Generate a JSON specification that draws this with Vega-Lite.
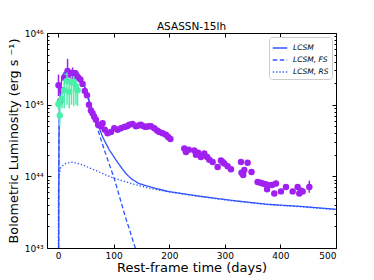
{
  "$schema": "https://vega.github.io/schema/vega-lite/v6.json",
  "width": 289,
  "height": 215,
  "autosize": {"type": "none"},
  "padding": {"left": 47, "top": 33, "right": 38, "bottom": 32},
  "config": {
    "font": "DejaVu Sans",
    "view": {"stroke": "black", "strokeWidth": 1},
    "axis": {"labelFont": "DejaVu Sans", "titleFont": "DejaVu Sans", "labelColor": "black", "titleColor": "black", "tickColor": "black", "grid": false, "domain": false}
  },
  "title": {"text": "ASASSN-15lh", "fontSize": 10.5, "fontWeight": "normal", "offset": -3, "frame": "group", "font": "DejaVu Sans", "color": "black"},
  "datasets": {
    "lines": [
      {"t": 0.8, "L": 3.162e42, "series": "L_CSM"},
      {"t": 1.5, "L": 3.162e44, "series": "L_CSM"},
      {"t": 2.5, "L": 1e45, "series": "L_CSM"},
      {"t": 4, "L": 1.585e45, "series": "L_CSM"},
      {"t": 7, "L": 2.399e45, "series": "L_CSM"},
      {"t": 10, "L": 2.754e45, "series": "L_CSM"},
      {"t": 15, "L": 2.951e45, "series": "L_CSM"},
      {"t": 25, "L": 3.02e45, "series": "L_CSM"},
      {"t": 32, "L": 2.951e45, "series": "L_CSM"},
      {"t": 37, "L": 2.692e45, "series": "L_CSM"},
      {"t": 42, "L": 2.291e45, "series": "L_CSM"},
      {"t": 47, "L": 1.862e45, "series": "L_CSM"},
      {"t": 52, "L": 1.445e45, "series": "L_CSM"},
      {"t": 57, "L": 1.072e45, "series": "L_CSM"},
      {"t": 62, "L": 8.318e44, "series": "L_CSM"},
      {"t": 71, "L": 5.495e44, "series": "L_CSM"},
      {"t": 80, "L": 3.548e44, "series": "L_CSM"},
      {"t": 92, "L": 2.344e44, "series": "L_CSM"},
      {"t": 104, "L": 1.698e44, "series": "L_CSM"},
      {"t": 113, "L": 1.349e44, "series": "L_CSM"},
      {"t": 122, "L": 1.096e44, "series": "L_CSM"},
      {"t": 131, "L": 9.333e43, "series": "L_CSM"},
      {"t": 145, "L": 7.943e43, "series": "L_CSM"},
      {"t": 167, "L": 7.079e43, "series": "L_CSM"},
      {"t": 197, "L": 6.166e43, "series": "L_CSM"},
      {"t": 257, "L": 5.248e43, "series": "L_CSM"},
      {"t": 317, "L": 4.571e43, "series": "L_CSM"},
      {"t": 377, "L": 4.074e43, "series": "L_CSM"},
      {"t": 437, "L": 3.802e43, "series": "L_CSM"},
      {"t": 500, "L": 3.467e43, "series": "L_CSM"},

      {"t": 0.8, "L": 3.162e42, "series": "L_CSM, FS"},
      {"t": 1.5, "L": 3.162e44, "series": "L_CSM, FS"},
      {"t": 2.5, "L": 9.8e44, "series": "L_CSM, FS"},
      {"t": 4, "L": 1.55e45, "series": "L_CSM, FS"},
      {"t": 7, "L": 2.344e45, "series": "L_CSM, FS"},
      {"t": 10, "L": 2.692e45, "series": "L_CSM, FS"},
      {"t": 15, "L": 2.884e45, "series": "L_CSM, FS"},
      {"t": 25, "L": 2.951e45, "series": "L_CSM, FS"},
      {"t": 32, "L": 2.884e45, "series": "L_CSM, FS"},
      {"t": 37, "L": 2.63e45, "series": "L_CSM, FS"},
      {"t": 42, "L": 2.239e45, "series": "L_CSM, FS"},
      {"t": 47, "L": 1.82e45, "series": "L_CSM, FS"},
      {"t": 52, "L": 1.38e45, "series": "L_CSM, FS"},
      {"t": 57, "L": 1.023e45, "series": "L_CSM, FS"},
      {"t": 65, "L": 6.457e44, "series": "L_CSM, FS"},
      {"t": 83, "L": 2.344e44, "series": "L_CSM, FS"},
      {"t": 101, "L": 9.333e43, "series": "L_CSM, FS"},
      {"t": 120, "L": 2.884e43, "series": "L_CSM, FS"},
      {"t": 143, "L": 7.943e42, "series": "L_CSM, FS"},

      {"t": 0.2, "L": 3.162e42, "series": "L_CSM, RS"},
      {"t": 0.5, "L": 6.31e43, "series": "L_CSM, RS"},
      {"t": 1.5, "L": 1e44, "series": "L_CSM, RS"},
      {"t": 5, "L": 1.349e44, "series": "L_CSM, RS"},
      {"t": 14, "L": 1.514e44, "series": "L_CSM, RS"},
      {"t": 26, "L": 1.585e44, "series": "L_CSM, RS"},
      {"t": 44, "L": 1.445e44, "series": "L_CSM, RS"},
      {"t": 59, "L": 1.288e44, "series": "L_CSM, RS"},
      {"t": 80, "L": 1.096e44, "series": "L_CSM, RS"},
      {"t": 95, "L": 9.772e43, "series": "L_CSM, RS"},
      {"t": 131, "L": 7.943e43, "series": "L_CSM, RS"},
      {"t": 167, "L": 6.761e43, "series": "L_CSM, RS"},
      {"t": 197, "L": 6.095e43, "series": "L_CSM, RS"},
      {"t": 257, "L": 5.188e43, "series": "L_CSM, RS"},
      {"t": 317, "L": 4.519e43, "series": "L_CSM, RS"},
      {"t": 377, "L": 4.027e43, "series": "L_CSM, RS"},
      {"t": 437, "L": 3.758e43, "series": "L_CSM, RS"},
      {"t": 500, "L": 3.428e43, "series": "L_CSM, RS"}
    ],
    "purple": [
      {"t": 0.7, "L": 1.862e45, "lo": 1.318e45, "hi": 2.63e45},
      {"t": 4, "L": 1.122e45},
      {"t": 7, "L": 1.585e45},
      {"t": 11, "L": 2.399e45},
      {"t": 17, "L": 2.951e45, "lo": 1.995e45, "hi": 4.365e45},
      {"t": 22, "L": 2.63e45},
      {"t": 26, "L": 2.512e45, "lo": 1.995e45, "hi": 3.311e45},
      {"t": 31, "L": 2.754e45},
      {"t": 36, "L": 2.399e45},
      {"t": 40, "L": 2.239e45},
      {"t": 44, "L": 1.95e45},
      {"t": 48, "L": 1.549e45},
      {"t": 52, "L": 1.349e45},
      {"t": 55.5, "L": 1e45},
      {"t": 59, "L": 8.318e44},
      {"t": 62, "L": 7.586e44},
      {"t": 65, "L": 6.761e44},
      {"t": 68, "L": 6.166e44},
      {"t": 72, "L": 5.248e44},
      {"t": 77, "L": 5.012e44},
      {"t": 80, "L": 5.495e44},
      {"t": 84, "L": 4.467e44},
      {"t": 89, "L": 3.981e44},
      {"t": 95, "L": 4.169e44},
      {"t": 101, "L": 4.677e44},
      {"t": 107, "L": 4.467e44},
      {"t": 113, "L": 4.677e44},
      {"t": 119, "L": 4.898e44},
      {"t": 124, "L": 5.012e44},
      {"t": 128, "L": 5.248e44},
      {"t": 134, "L": 5.37e44},
      {"t": 140, "L": 5.012e44},
      {"t": 145, "L": 5.129e44},
      {"t": 149, "L": 5.248e44},
      {"t": 154, "L": 5.012e44},
      {"t": 158, "L": 4.898e44},
      {"t": 163, "L": 5.012e44},
      {"t": 167, "L": 5.012e44},
      {"t": 173, "L": 4.677e44},
      {"t": 178, "L": 4.365e44},
      {"t": 182, "L": 4.169e44},
      {"t": 188, "L": 3.981e44},
      {"t": 194, "L": 3.802e44},
      {"t": 198, "L": 3.548e44},
      {"t": 202, "L": 3.311e44},
      {"t": 227, "L": 2.455e44},
      {"t": 230, "L": 2.188e44},
      {"t": 235, "L": 2.344e44},
      {"t": 245, "L": 2.291e44},
      {"t": 248, "L": 1.995e44},
      {"t": 252, "L": 2.138e44},
      {"t": 257, "L": 1.862e44},
      {"t": 263, "L": 2.089e44},
      {"t": 268, "L": 1.862e44},
      {"t": 272, "L": 1.698e44},
      {"t": 278, "L": 1.585e44},
      {"t": 287, "L": 1.349e44},
      {"t": 293, "L": 1.66e44},
      {"t": 296, "L": 1.585e44},
      {"t": 299, "L": 1.514e44},
      {"t": 305, "L": 1.38e44},
      {"t": 311, "L": 1.259e44},
      {"t": 329, "L": 1.585e44},
      {"t": 341, "L": 1.549e44},
      {"t": 330, "L": 1.122e44},
      {"t": 333, "L": 1.047e44},
      {"t": 335, "L": 1.23e44},
      {"t": 348, "L": 1.148e44},
      {"t": 359, "L": 8.318e43},
      {"t": 364, "L": 8.128e43},
      {"t": 368, "L": 7.943e43},
      {"t": 373, "L": 7.762e43},
      {"t": 377, "L": 7.586e43},
      {"t": 376, "L": 6.607e43},
      {"t": 385, "L": 7.586e43},
      {"t": 389, "L": 5.754e43},
      {"t": 392, "L": 7.943e43},
      {"t": 401, "L": 6.166e43},
      {"t": 410, "L": 7.079e43},
      {"t": 422, "L": 6.166e43},
      {"t": 431, "L": 7.079e43},
      {"t": 434, "L": 5.754e43},
      {"t": 437, "L": 6.31e43},
      {"t": 440, "L": 6.166e43},
      {"t": 452, "L": 7.079e43, "lo": 5.888e43, "hi": 8.71e43}
    ],
    "green": [
      {"t": 0.5, "L": 1.023e45, "lo": 8.511e44, "hi": 1.202e45},
      {"t": 3, "L": 7.079e44, "lo": 5.012e44, "hi": 1e45},
      {"t": 7, "L": 1.202e45, "lo": 8.913e44, "hi": 1.585e45},
      {"t": 11, "L": 1.585e45, "lo": 8.913e44, "hi": 2.239e45},
      {"t": 16, "L": 2.138e45, "lo": 1e45, "hi": 2.818e45},
      {"t": 20, "L": 1.514e45, "lo": 8.913e44, "hi": 1.995e45},
      {"t": 24, "L": 2.042e45, "lo": 1e45, "hi": 2.512e45},
      {"t": 28, "L": 2.089e45, "lo": 9.55e44, "hi": 2.512e45},
      {"t": 32, "L": 1.778e45, "lo": 1e45, "hi": 2.138e45},
      {"t": 35, "L": 1.585e45, "lo": 9.55e44, "hi": 1.995e45}
    ]
  },
  "resolve": {"axis": {"x": "independent", "y": "independent"}},
  "layer": [
    {
      "data": {"name": "lines"},
      "mark": {"type": "line", "clip": true, "strokeWidth": 1.3, "color": "#2f55ff"},
      "encoding": {
        "x": {"field": "t", "type": "quantitative", "scale": {"domain": [-20, 500], "nice": false, "zero": false},
          "axis": {"orient": "bottom", "values": [0, 100, 200, 300, 400, 500], "tickSize": -4, "labelPadding": 7, "labelFontSize": 9, "title": "Rest-frame time (days)", "titleFontSize": 13, "titleFontWeight": "normal", "titlePadding": 1}},
        "y": {"field": "L", "type": "quantitative", "scale": {"type": "log", "domain": [1e43, 1e46], "nice": false},
          "axis": {"orient": "left",
            "values": [1e43, 2e43, 3e43, 4e43, 5e43, 6e43, 7e43, 8e43, 9e43, 1e44, 2e44, 3e44, 4e44, 5e44, 6e44, 7e44, 8e44, 9e44, 1e45, 2e45, 3e45, 4e45, 5e45, 6e45, 7e45, 8e45, 9e45, 1e46],
            "labelExpr": "datum.value == 1e43 ? '10⁴³' : datum.value == 1e44 ? '10⁴⁴' : datum.value == 1e45 ? '10⁴⁵' : datum.value == 1e46 ? '10⁴⁶' : ''",
            "labelOverlap": false, "labelFontSize": 9, "labelPadding": 8,
            "tickSize": {"condition": {"test": "datum.value == 1e43 || datum.value == 1e44 || datum.value == 1e45 || datum.value == 1e46", "value": -4}, "value": -2},
            "title": "Bolometric Luminosity (erg s ⁻¹)", "titleFontSize": 12.8, "titleFontWeight": "normal", "titlePadding": 4}},
        "strokeDash": {"field": "series", "type": "nominal",
          "scale": {"domain": ["L_CSM", "L_CSM, FS", "L_CSM, RS"], "range": [[1, 0], [4.5, 2.5], [1.3, 2]]},
          "legend": {"orient": "top-right", "offset": 4, "title": null, "symbolType": "stroke", "symbolSize": 210, "symbolStrokeWidth": 1.4, "symbolStrokeColor": "#2f55ff", "labelFontSize": 7.5, "labelFontStyle": "italic", "strokeColor": "#cccccc", "fillColor": "white", "padding": 3, "cornerRadius": 3, "rowPadding": 0, "labelOffset": 5,
            "labelExpr": "datum.label == 'L_CSM' ? 'LCSM' : datum.label == 'L_CSM, FS' ? 'LCSM, FS' : 'LCSM, RS'"}}
      }
    },
    {
      "data": {"name": "purple"},
      "transform": [{"filter": "isValid(datum.lo)"}],
      "mark": {"type": "rule", "color": "#a020f0", "strokeWidth": 1.5, "clip": true},
      "encoding": {
        "x": {"field": "t", "type": "quantitative", "axis": null},
        "y": {"field": "lo", "type": "quantitative", "axis": null},
        "y2": {"field": "hi"}
      }
    },
    {
      "data": {"name": "purple"},
      "mark": {"type": "circle", "color": "#a020f0", "size": 42, "opacity": 1, "clip": true},
      "encoding": {
        "x": {"field": "t", "type": "quantitative",
          "axis": {"orient": "top", "values": [0, 100, 200, 300, 400, 500], "tickSize": -4, "labels": false, "title": null}},
        "y": {"field": "L", "type": "quantitative",
          "axis": {"orient": "right", "values": [1e43, 2e43, 3e43, 4e43, 5e43, 6e43, 7e43, 8e43, 9e43, 1e44, 2e44, 3e44, 4e44, 5e44, 6e44, 7e44, 8e44, 9e44, 1e45, 2e45, 3e45, 4e45, 5e45, 6e45, 7e45, 8e45, 9e45, 1e46],
            "labels": false, "title": null,
            "tickSize": {"condition": {"test": "datum.value == 1e43 || datum.value == 1e44 || datum.value == 1e45 || datum.value == 1e46", "value": -4}, "value": -2}}}
      }
    },
    {
      "data": {"name": "green"},
      "mark": {"type": "rule", "color": "#4cefaa", "strokeWidth": 1.5, "clip": true},
      "encoding": {
        "x": {"field": "t", "type": "quantitative", "axis": null},
        "y": {"field": "lo", "type": "quantitative", "axis": null},
        "y2": {"field": "hi"}
      }
    },
    {
      "data": {"name": "green"},
      "mark": {"type": "circle", "color": "#4cefaa", "size": 42, "opacity": 1, "clip": true},
      "encoding": {
        "x": {"field": "t", "type": "quantitative", "axis": null},
        "y": {"field": "L", "type": "quantitative", "axis": null}
      }
    }
  ]
}
